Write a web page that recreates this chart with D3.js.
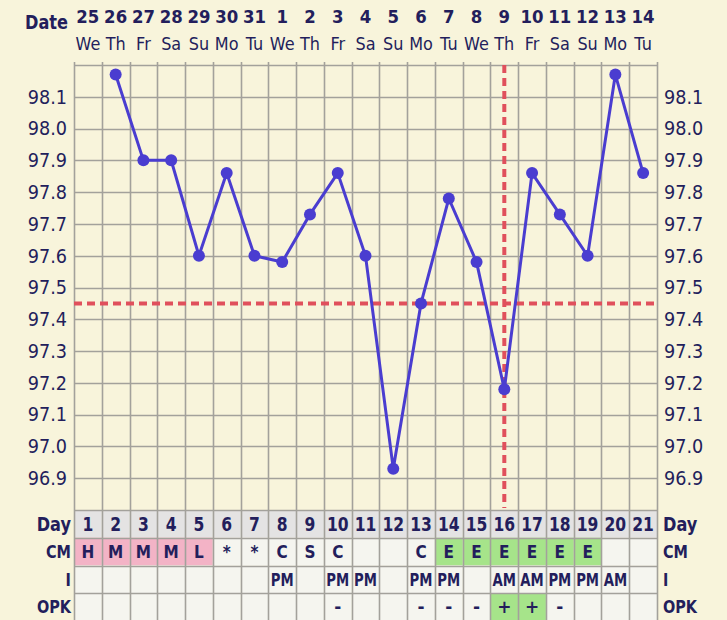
<!DOCTYPE html>
<html><head><meta charset="utf-8">
<script src="https://cdn.jsdelivr.net/npm/d3@7"></script>
<style>html,body{margin:0;padding:0;background:#f8f4db;}svg{display:block;}</style>
</head><body><svg id="c" width="727" height="620"></svg>
<script>
const dates = ["25","26","27","28","29","30","31","1","2","3","4","5","6","7","8","9","10","11","12","13","14"];
const weekdays = ["We","Th","Fr","Sa","Su","Mo","Tu","We","Th","Fr","Sa","Su","Mo","Tu","We","Th","Fr","Sa","Su","Mo","Tu"];
const cycleDays = d3.range(1, 22);
const temps = [null,98.17,97.9,97.9,97.6,97.86,97.6,97.58,97.73,97.86,97.6,96.93,97.45,97.78,97.58,97.18,97.86,97.73,97.6,98.17,97.86];
const tempTicks = [96.9,97.0,97.1,97.2,97.3,97.4,97.5,97.6,97.7,97.8,97.9,98.0,98.1];
const gridValues = [96.8,96.9,97.0,97.1,97.2,97.3,97.4,97.5,97.6,97.7,97.8,97.9,98.0,98.1,98.2];
const cm = ["H","M","M","M","L","*","*","C","S","C","","","C","E","E","E","E","E","E","",""];
const cmType = ["p","p","p","p","p","","","","","","","","","g","g","g","g","g","g","",""];
const intercourse = ["","","","","","","","PM","","PM","PM","","PM","PM","","AM","AM","PM","PM","AM",""];
const opk = ["","","","","","","","","","-","","","-","-","-","+","+","-","","",""];
const opkType = ["","","","","","","","","","","","","","","","g","g","","","",""];
const rowLabels = ["Day","CM","I","OPK"];
const coverline = 97.45;
const ovulationDay = 16;

const svg = d3.select("#c");
const pL = 74, pR = 657, pT = 65, pB = 510;
const n = dates.length;
const x = d3.scaleLinear().domain([0, n]).range([pL, pR]);
const colW = (pR - pL) / n;
const y = d3.scaleLinear().domain([96.8, 98.2]).range([pB, pT]);
const rowH = colW;
const navy = "#231e5c";
const gridC = "#a3a19b";
const fillMap = {p:"#f3b3c6", g:"#a6e48a", "":"#f5f5ef"};

// table backgrounds
const tbl = svg.append("g");
const rowsY = [0,1,2,3].map(i => pB + i*rowH);
tbl.selectAll("rect.day").data(cycleDays).join("rect")
  .attr("x",(d,i)=>x(i)).attr("y",rowsY[0]).attr("width",colW).attr("height",rowH).attr("fill","#e4e3e3");
tbl.selectAll("rect.cm").data(cmType).join("rect")
  .attr("x",(d,i)=>x(i)).attr("y",rowsY[1]).attr("width",colW).attr("height",rowH).attr("fill",d=>fillMap[d]);
tbl.selectAll("rect.i").data(intercourse).join("rect")
  .attr("x",(d,i)=>x(i)).attr("y",rowsY[2]).attr("width",colW).attr("height",rowH).attr("fill",fillMap[""]);
tbl.selectAll("rect.o").data(opkType).join("rect")
  .attr("x",(d,i)=>x(i)).attr("y",rowsY[3]).attr("width",colW).attr("height",rowH).attr("fill",d=>fillMap[d]);

// grid
const grid = svg.append("g").attr("stroke",gridC).attr("stroke-width",1.6);
grid.selectAll("line.h").data(gridValues).join("line")
  .attr("x1",pL).attr("x2",pR).attr("y1",d=>Math.round(y(d))+0.5).attr("y2",d=>Math.round(y(d))+0.5);
grid.selectAll("line.t").data([1,2,3,4]).join("line")
  .attr("x1",pL).attr("x2",pR).attr("y1",d=>Math.round(pB+d*rowH)+0.5).attr("y2",d=>Math.round(pB+d*rowH)+0.5);
grid.selectAll("line.v").data(d3.range(n+1)).join("line")
  .attr("x1",d=>Math.round(x(d))+0.5).attr("x2",d=>Math.round(x(d))+0.5).attr("y1",pT-3).attr("y2",620);

// dashed lines
svg.append("line").attr("x1",pL).attr("x2",pR).attr("y1",y(coverline)).attr("y2",y(coverline))
  .attr("stroke","#e0505c").attr("stroke-width",4).attr("stroke-dasharray","8,5");
svg.append("line").attr("x1",x(ovulationDay-0.5)).attr("x2",x(ovulationDay-0.5)).attr("y1",pT).attr("y2",pB-2)
  .attr("stroke","#e0505c").attr("stroke-width",4).attr("stroke-dasharray","8,5");

// temperature line
const pts = temps.map((t,i)=>({i,t})).filter(d=>d.t!=null);
svg.append("path").datum(pts)
  .attr("d", d3.line().x(d=>x(d.i+0.5)).y(d=>y(d.t)))
  .attr("fill","none").attr("stroke","#4a3dd0").attr("stroke-width",3);
svg.selectAll("circle.p").data(pts).join("circle")
  .attr("cx",d=>x(d.i+0.5)).attr("cy",d=>y(d.t)).attr("r",6).attr("fill","#4a3dd0");

// text helper with horizontal condensing
const font = "DejaVu Sans, Verdana, sans-serif";
const lab = svg.append("g").attr("font-family",font).attr("fill",navy);
function txt(data, cls, fx, fy, opt) {
  return lab.selectAll("text."+cls).data(data).join("text").attr("class",cls)
    .attr("transform",(d,i)=>`translate(${fx(d,i)},${fy(d,i)}) scale(${opt.sx||1},1)`)
    .attr("dy","0.36em").attr("text-anchor",opt.anchor||"middle")
    .attr("font-size",opt.size).attr("font-weight",opt.bold?"bold":"normal")
    .text(d=>d);
}

// axis labels
txt(tempTicks.map(d=>d.toFixed(1)), "tl", ()=>67, d=>y(+d), {size:19, sx:0.93, anchor:"end"});
txt(tempTicks.map(d=>d.toFixed(1)), "tr", ()=>664, d=>y(+d), {size:19, sx:0.93, anchor:"start"});

// header
txt(["Date"], "dl", ()=>68, ()=>22, {size:19, sx:0.85, anchor:"end", bold:true});
txt(dates, "dt", (d,i)=>x(i+0.5), ()=>17, {size:18, sx:0.92, bold:true});
txt(weekdays, "wd", (d,i)=>x(i+0.5), ()=>44, {size:17.5, sx:0.92});

// table row labels
txt(rowLabels, "rl", ()=>71, (d,i)=>rowsY[i]+rowH/2, {size:18, sx:0.85, anchor:"end", bold:true});
txt(rowLabels, "rr", ()=>663, (d,i)=>rowsY[i]+rowH/2, {size:18, sx:0.85, anchor:"start", bold:true});
lab.selectAll("text.rl,text.rr").attr("font-size",d=>d==="Day"?19:17);

// table contents
txt(cycleDays.map(String), "r0", (d,i)=>x(i+0.5), ()=>rowsY[0]+rowH/2, {size:19, sx:0.82, bold:true});
txt(cm, "r1", (d,i)=>x(i+0.5), ()=>rowsY[1]+rowH/2, {size:17, sx:0.9, bold:true});
txt(intercourse, "r2", (d,i)=>x(i+0.5), ()=>rowsY[2]+rowH/2, {size:17, sx:0.78, bold:true});
txt(opk, "r3", (d,i)=>x(i+0.5), ()=>rowsY[3]+rowH/2, {size:17, sx:1, bold:true});
</script></body></html>
